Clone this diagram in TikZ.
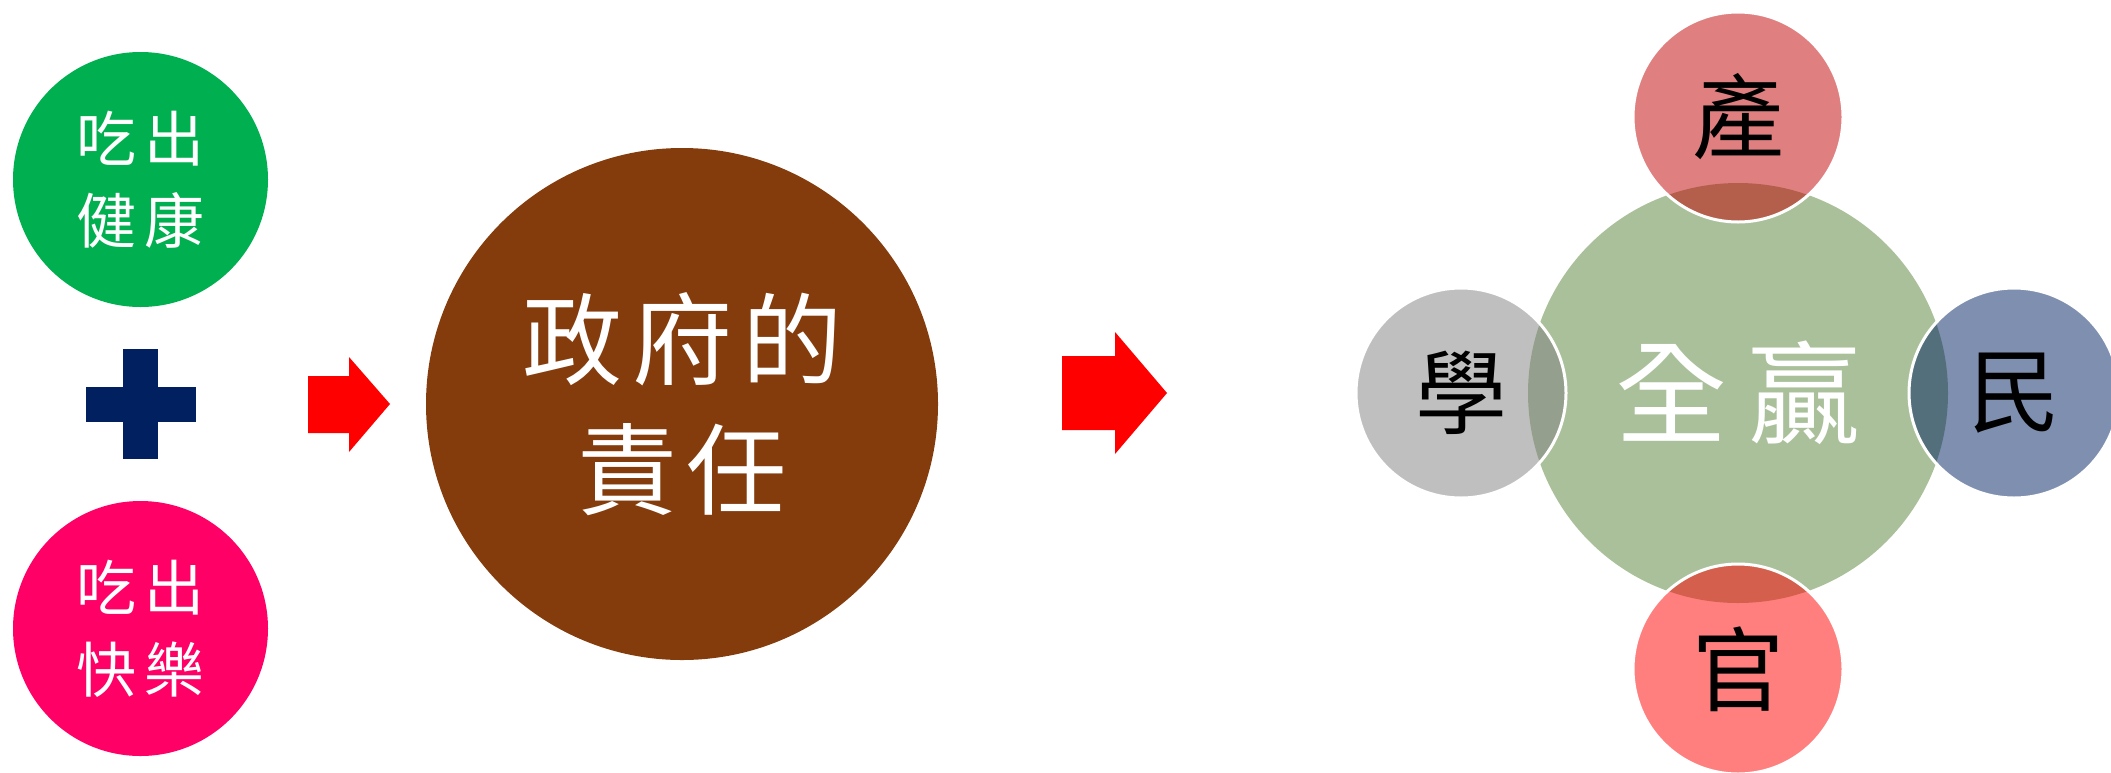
\documentclass[tikz,border=0pt]{standalone}
\usepackage{fontspec}
\newfontfamily\cjk{Noto Sans CJK TC}
\definecolor{cgreen}{HTML}{00B050}
\definecolor{cpink}{HTML}{FF0066}
\definecolor{cnavy}{HTML}{002060}
\definecolor{cred}{HTML}{FF0000}
\definecolor{cbrown}{HTML}{843C0C}
\definecolor{bigg}{HTML}{548235}
\definecolor{pdark}{HTML}{C00000}
\definecolor{pgrey}{HTML}{808080}
\definecolor{pnavy}{HTML}{002060}
\definecolor{pred}{HTML}{FF0000}
\begin{document}
\begin{tikzpicture}[x=1pt,y=-1pt,
  disc/.style={circle, inner sep=0pt, align=center, text=white},
  smalltext/.style={font=\cjk\fontsize{60}{82}\selectfont},
  bigtext/.style={font=\cjk\fontsize{100}{130}\selectfont},
  petal/.style={circle, minimum size=210pt, inner sep=0pt, fill opacity=0.5, text opacity=1,
    draw=white, line width=3pt, text=black, font=\cjk\fontsize{92}{92}\selectfont},
  arrowshape/.style={fill=cred},
  plusbar/.style={fill=cnavy}]
\useasboundingbox (0,0) rectangle (2111,772);
\clip (0,0) rectangle (2111,772);

% left column
\node[disc, smalltext, fill=cgreen, minimum size=255pt] (health) at (140.5,179.5)
  {吃\hspace{8pt}出\\健\hspace{8pt}康};
\node[disc, smalltext, fill=cpink, minimum size=255pt] (happy) at (140.5,628.5)
  {吃\hspace{8pt}出\\快\hspace{8pt}樂};

% plus sign
\fill[plusbar] (86,387) rectangle (196,422);
\fill[plusbar] (123,349) rectangle (158,459);

% left arrow
\fill[arrowshape] (308,376) -- (349,376) -- (349,357) -- (390,404) -- (349,452) -- (349,433) -- (308,433) -- cycle;

% centre
\node[disc, bigtext, fill=cbrown, minimum size=512pt] (gov) at (682,404)
  {政\hspace{10pt}府\hspace{10pt}的\\責\hspace{10pt}任};

% right arrow
\fill[arrowshape] (1062,356) -- (1115,356) -- (1115,332) -- (1167,393) -- (1115,454) -- (1115,430) -- (1062,430) -- cycle;

% right cluster
\node[circle, inner sep=0pt, minimum size=420pt, fill=bigg, fill opacity=0.5, text opacity=1,
  text=white, font=\cjk\fontsize{112}{112}\selectfont] (win) at (1738,393)
  {全\hspace{22pt}贏};
\node[petal, fill=pdark] (ind) at (1738,117) {產};
\node[petal, fill=pgrey] (aca) at (1461,393) {學};
\node[petal, fill=pnavy] (peo) at (2014,393) {民};
\node[petal, fill=pred] (off) at (1738,669) {官};
\end{tikzpicture}
\end{document}
